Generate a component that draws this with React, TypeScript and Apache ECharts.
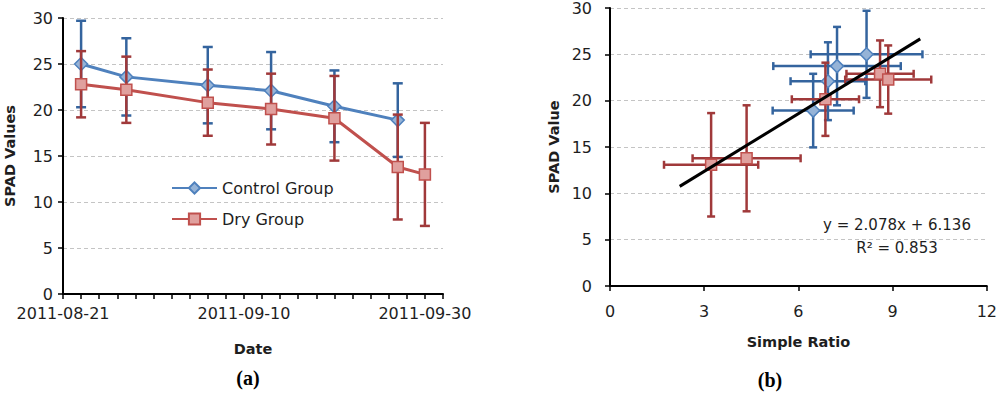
import React, { useEffect, useRef } from 'react';
import * as echarts from 'echarts';

// ---- Panel (a): SPAD over time ----
const START_DATE = '2011-08-21';
const END_DATE = '2011-10-02';
const controlDates = ['2011-08-23', '2011-08-28', '2011-09-06', '2011-09-13', '2011-09-20', '2011-09-27'];
const controlSpad = [25.0, 23.6, 22.7, 22.1, 20.4, 18.9];
const controlErr = [4.7, 4.2, 4.15, 4.2, 3.9, 4.0];
const dryDates = ['2011-08-23', '2011-08-28', '2011-09-06', '2011-09-13', '2011-09-20', '2011-09-27', '2011-09-30'];
const drySpad = [22.8, 22.2, 20.8, 20.1, 19.1, 13.8, 13.0];
const dryErr = [3.6, 3.6, 3.6, 3.85, 4.6, 5.7, 5.6];

// ---- Panel (b): SPAD vs Simple Ratio ----
const controlSR = [8.17, 7.23, 6.94, 6.47];
const controlSRErr = [1.78, 2.03, 1.19, 1.29];
const controlSRSpad = [25.0, 23.73, 22.1, 18.93];
const controlSRSpadErr = [4.7, 4.23, 4.2, 3.97];
const drySR = [8.6, 8.86, 6.86, 3.22, 4.35];
const drySRErr = [1.07, 1.37, 1.07, 1.5, 1.72];
const drySRSpad = [22.9, 22.28, 20.15, 13.08, 13.78];
const drySRSpadErr = [3.6, 3.68, 3.95, 5.58, 5.72];
const trendX = [2.22, 9.88];
const trendY = [10.75, 26.67];
const equationText = 'y = 2.078x + 6.136';
const r2Text = 'R² = 0.853';

const FONT = 'DejaVu Sans';
const TXT = '#1e1e1e';
const BLUE = '#4F81BD';
const BLUE_FILL = '#95B3D7';
const BLUE_ERR = '#34649E';
const RED = '#C0504D';
const RED_FILL = '#E0A09E';
const RED_ERR = '#A0393A';

const DAY = 86400000;
const dayOf = (d: string) => Math.round((Date.parse(d) - Date.parse(START_DATE)) / DAY);
const fmtDay = (n: number) => new Date(Date.parse(START_DATE) + n * DAY).toISOString().slice(0, 10);

const vErr = (color: string, cap: number) => (params: any, api: any) => {
  const x = api.value(0);
  const a = api.coord([x, api.value(2)]);
  const b = api.coord([x, api.value(3)]);
  const st = { stroke: color, lineWidth: 2.5 };
  return {
    type: 'group',
    children: [
      { type: 'line', shape: { x1: a[0], y1: a[1], x2: b[0], y2: b[1] }, style: st },
      { type: 'line', shape: { x1: a[0] - cap, y1: a[1], x2: a[0] + cap, y2: a[1] }, style: st },
      { type: 'line', shape: { x1: b[0] - cap, y1: b[1], x2: b[0] + cap, y2: b[1] }, style: st },
    ],
  };
};

const xyErr = (color: string, cap: number) => (params: any, api: any) => {
  const x = api.value(0);
  const y = api.value(1);
  const l = api.coord([api.value(2), y]);
  const r = api.coord([api.value(3), y]);
  const lo = api.coord([x, api.value(4)]);
  const hi = api.coord([x, api.value(5)]);
  const st = { stroke: color, lineWidth: 2.5 };
  return {
    type: 'group',
    children: [
      { type: 'line', shape: { x1: l[0], y1: l[1], x2: r[0], y2: r[1] }, style: st },
      { type: 'line', shape: { x1: l[0], y1: l[1] - cap, x2: l[0], y2: l[1] + cap }, style: st },
      { type: 'line', shape: { x1: r[0], y1: r[1] - cap, x2: r[0], y2: r[1] + cap }, style: st },
      { type: 'line', shape: { x1: lo[0], y1: lo[1], x2: hi[0], y2: hi[1] }, style: st },
      { type: 'line', shape: { x1: lo[0] - cap, y1: lo[1], x2: lo[0] + cap, y2: lo[1] }, style: st },
      { type: 'line', shape: { x1: hi[0] - cap, y1: hi[1], x2: hi[0] + cap, y2: hi[1] }, style: st },
    ],
  };
};

const labelStyle = { fontFamily: FONT, fontSize: 16, color: TXT };
const nameStyle = { fontFamily: FONT, fontSize: 14.5, fontWeight: 'bold' as const, color: TXT };
const axisLine = { show: true, onZero: false, lineStyle: { color: '#000', width: 2 } };
const axisTick = { show: true, inside: false, length: 5, lineStyle: { color: '#000', width: 1.5 } };
const splitLine = { show: true, lineStyle: { color: '#C4C4C4', width: 1, type: [4, 3] as any } };

export default function App() {
  const ref = useRef<HTMLDivElement>(null);
  useEffect(() => {
    if (!ref.current) return;
    const chart = echarts.init(ref.current, undefined, { renderer: 'svg' });
    const endDay = dayOf(END_DATE);

    const option: any = {
      animation: false,
      backgroundColor: '#fff',
      textStyle: { fontFamily: FONT },
      legend: {
        data: ['Control Group', 'Dry Group'],
        orient: 'vertical',
        left: 171,
        top: 180,
        padding: 0,
        itemWidth: 45,
        itemHeight: 14,
        itemGap: 15,
        textStyle: { fontFamily: FONT, fontSize: 16, color: TXT },
      },
      grid: [
        { left: 63, top: 18, width: 380, height: 276 },
        { left: 610, top: 7, width: 379, height: 279 },
      ],
      xAxis: [
        {
          gridIndex: 0,
          type: 'value',
          min: 0,
          max: endDay,
          interval: 2,
          axisLine,
          axisTick,
          splitLine: { show: false },
          axisLabel: {
            ...labelStyle,
            margin: 11,
            formatter: (v: number) => (v % 20 === 0 ? fmtDay(v) : ''),
          },
          name: 'Date',
          nameLocation: 'middle',
          nameGap: 47,
          nameTextStyle: nameStyle,
        },
        {
          gridIndex: 1,
          type: 'value',
          min: 0,
          max: 12,
          interval: 3,
          axisLine,
          axisTick,
          splitLine: { show: false },
          axisLabel: { ...labelStyle, margin: 17 },
          name: 'Simple Ratio',
          nameLocation: 'middle',
          nameGap: 48,
          nameTextStyle: nameStyle,
        },
      ],
      yAxis: [
        {
          gridIndex: 0,
          type: 'value',
          min: 0,
          max: 30,
          interval: 5,
          axisLine,
          axisTick,
          splitLine,
          axisLabel: { ...labelStyle, margin: 10 },
          name: 'SPAD Values',
          nameLocation: 'middle',
          nameGap: 46,
          nameTextStyle: nameStyle,
        },
        {
          gridIndex: 1,
          type: 'value',
          min: 0,
          max: 30,
          interval: 5,
          axisLine,
          axisTick,
          splitLine,
          axisLabel: { ...labelStyle, margin: 18 },
          name: 'SPAD Value',
          nameLocation: 'middle',
          nameGap: 49,
          nameTextStyle: nameStyle,
        },
      ],
      series: [
        {
          name: 'Control err',
          type: 'custom',
          xAxisIndex: 0,
          yAxisIndex: 0,
          renderItem: vErr(BLUE_ERR, 5),
          encode: { x: 0, y: [1, 2, 3] },
          data: controlDates.map((d, i) => [dayOf(d), controlSpad[i], controlSpad[i] - controlErr[i], controlSpad[i] + controlErr[i]]),
          z: 2,
        },
        {
          name: 'Control Group',
          type: 'line',
          xAxisIndex: 0,
          yAxisIndex: 0,
          data: controlDates.map((d, i) => [dayOf(d), controlSpad[i]]),
          symbol: 'diamond',
          symbolSize: 13,
          lineStyle: { color: BLUE, width: 3 },
          itemStyle: { color: BLUE_FILL, borderColor: BLUE, borderWidth: 1.5 },
          z: 3,
        },
        {
          name: 'Dry err',
          type: 'custom',
          xAxisIndex: 0,
          yAxisIndex: 0,
          renderItem: vErr(RED_ERR, 5),
          encode: { x: 0, y: [1, 2, 3] },
          data: dryDates.map((d, i) => [dayOf(d), drySpad[i], drySpad[i] - dryErr[i], drySpad[i] + dryErr[i]]),
          z: 4,
        },
        {
          name: 'Dry Group',
          type: 'line',
          xAxisIndex: 0,
          yAxisIndex: 0,
          data: dryDates.map((d, i) => [dayOf(d), drySpad[i]]),
          symbol: 'rect',
          symbolSize: 11,
          lineStyle: { color: RED, width: 3 },
          itemStyle: { color: RED_FILL, borderColor: RED, borderWidth: 1.5 },
          z: 5,
        },
        {
          name: 'Control SR err',
          type: 'custom',
          xAxisIndex: 1,
          yAxisIndex: 1,
          renderItem: xyErr(BLUE_ERR, 4),
          encode: { x: [0, 2, 3], y: [1, 4, 5] },
          data: controlSR.map((x, i) => [
            x, controlSRSpad[i], x - controlSRErr[i], x + controlSRErr[i],
            controlSRSpad[i] - controlSRSpadErr[i], controlSRSpad[i] + controlSRSpadErr[i],
          ]),
          z: 2,
        },
        {
          name: 'Control SR',
          type: 'scatter',
          xAxisIndex: 1,
          yAxisIndex: 1,
          data: controlSR.map((x, i) => [x, controlSRSpad[i]]),
          symbol: 'diamond',
          symbolSize: 13,
          itemStyle: { color: BLUE_FILL, borderColor: BLUE, borderWidth: 1.5, opacity: 1 },
          z: 3,
        },
        {
          name: 'Dry SR err',
          type: 'custom',
          xAxisIndex: 1,
          yAxisIndex: 1,
          renderItem: xyErr(RED_ERR, 4),
          encode: { x: [0, 2, 3], y: [1, 4, 5] },
          data: drySR.map((x, i) => [
            x, drySRSpad[i], x - drySRErr[i], x + drySRErr[i],
            drySRSpad[i] - drySRSpadErr[i], drySRSpad[i] + drySRSpadErr[i],
          ]),
          z: 4,
        },
        {
          name: 'Dry SR',
          type: 'scatter',
          xAxisIndex: 1,
          yAxisIndex: 1,
          data: drySR.map((x, i) => [x, drySRSpad[i]]),
          symbol: 'rect',
          symbolSize: 11,
          itemStyle: { color: RED_FILL, borderColor: RED, borderWidth: 1.5, opacity: 1 },
          z: 5,
        },
        {
          name: 'Trend',
          type: 'line',
          xAxisIndex: 1,
          yAxisIndex: 1,
          data: trendX.map((x, i) => [x, trendY[i]]),
          symbol: 'none',
          lineStyle: { color: '#000', width: 3 },
          z: 6,
        },
      ],
      graphic: [
        {
          type: 'text', x: 897, y: 225,
          style: { text: equationText, fill: TXT, font: `15px "${FONT}"`, align: 'center', verticalAlign: 'middle' },
        },
        {
          type: 'text', x: 897, y: 248,
          style: { text: r2Text, fill: TXT, font: `15px "${FONT}"`, align: 'center', verticalAlign: 'middle' },
        },
        {
          type: 'text', x: 248, y: 378,
          style: { text: '(a)', fill: '#000', font: `bold 20px "Liberation Serif"`, align: 'center', verticalAlign: 'middle' },
        },
        {
          type: 'text', x: 770, y: 380,
          style: { text: '(b)', fill: '#000', font: `bold 20px "Liberation Serif"`, align: 'center', verticalAlign: 'middle' },
        },
      ],
    };
    chart.setOption(option);
    return () => chart.dispose();
  }, []);
  return <div ref={ref} style={{ position: 'absolute', left: 0, top: 0, width: 1000, height: 393 }} />;
}
